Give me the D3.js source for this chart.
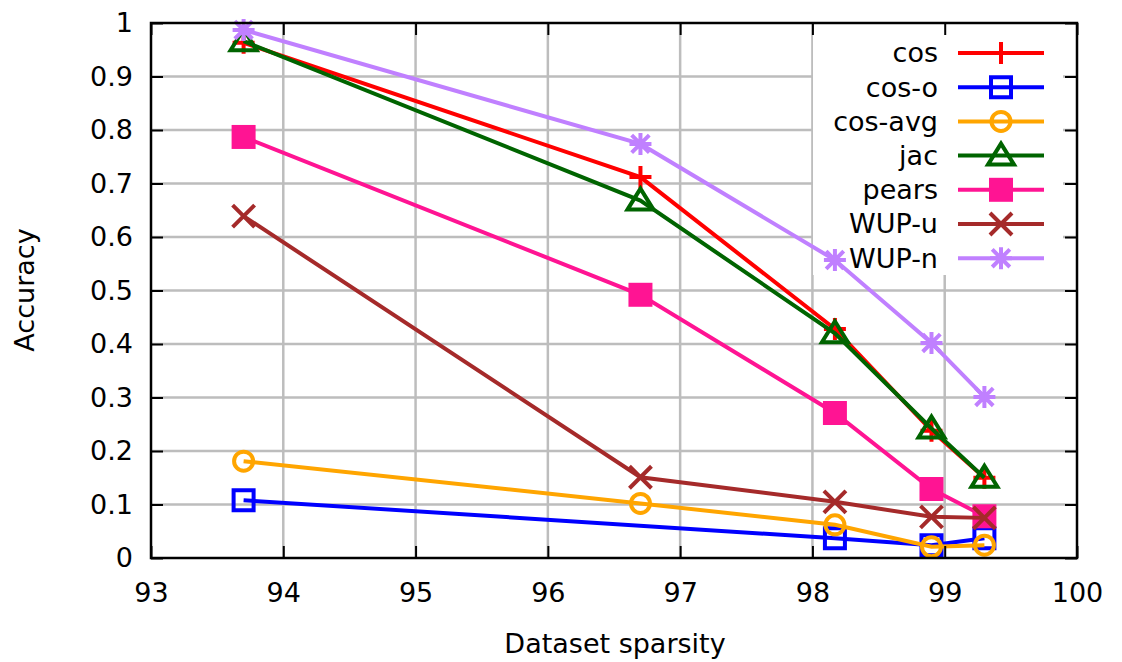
<!DOCTYPE html>
<html>
<head>
<meta charset="utf-8">
<script src="https://cdn.jsdelivr.net/npm/d3@7"></script>
<style>
  body { margin: 0; background: #fff; }
  text { font-family: "DejaVu Sans", sans-serif; fill: #000; }
</style>
</head>
<body>
<div id="chart"></div>
<script>
// Data
const sparsity = [93.7, 96.7, 98.17, 98.9, 99.3];
const cos     = [0.963, 0.712, 0.428, 0.238, 0.150];
const cosO    = [0.108, null, 0.037, 0.024, 0.037];
const cosAvg  = [0.181, 0.102, 0.062, 0.021, 0.024];
const jac     = [0.966, 0.668, 0.420, 0.242, 0.150];
const pears   = [0.787, 0.492, 0.271, 0.129, 0.078];
const wupU    = [0.639, 0.151, 0.105, 0.077, 0.075];
const wupN    = [0.987, 0.774, 0.557, 0.402, 0.301];
const xTicks = [93, 94, 95, 96, 97, 98, 99, 100];
const yTicks = [0, 0.1, 0.2, 0.3, 0.4, 0.5, 0.6, 0.7, 0.8, 0.9, 1];

const series = [
  {name: "cos",     values: cos,    color: "#ff0000", marker: "plus"},
  {name: "cos-o",   values: cosO,   color: "#0000ff", marker: "square"},
  {name: "cos-avg", values: cosAvg, color: "#ffa500", marker: "circle"},
  {name: "jac",     values: jac,    color: "#006400", marker: "triangle"},
  {name: "pears",   values: pears,  color: "#ff1493", marker: "fsquare"},
  {name: "WUP-u",   values: wupU,   color: "#a52a2a", marker: "cross"},
  {name: "WUP-n",   values: wupN,   color: "#c080ff", marker: "star"}
];

const W = 1122, H = 662;
const margin = {top: 23, right: 45, bottom: 104, left: 151};
const width = W - margin.left - margin.right,
      height = H - margin.top - margin.bottom;
const fontSize = "27px";
const lw = 4;

const svg = d3.select("#chart").append("svg")
    .attr("width", W).attr("height", H);
const g = svg.append("g")
    .attr("transform", `translate(${margin.left},${margin.top})`);

const x = d3.scaleLinear().domain([93, 100]).range([0, width]);
const y = d3.scaleLinear().domain([0, 1]).range([height, 0]);

// Grid lines
g.append("g").selectAll("line")
  .data(xTicks.slice(1, -1)).join("line")
    .attr("x1", d => x(d)).attr("x2", d => x(d))
    .attr("y1", 0).attr("y2", height)
    .attr("stroke", "#bdbdbd").attr("stroke-width", 2.5);
g.append("g").selectAll("line")
  .data(yTicks.slice(1, -1)).join("line")
    .attr("x1", 0).attr("x2", width)
    .attr("y1", d => y(d)).attr("y2", d => y(d))
    .attr("stroke", "#bdbdbd").attr("stroke-width", 2.5);

// Legend background covers the grid
const legend = {x: 813 - margin.left, y: 0, w: 250, h: 252};
g.append("rect")
  .attr("x", legend.x).attr("y", legend.y)
  .attr("width", legend.w).attr("height", legend.h)
  .attr("fill", "#fff");

// Marker shapes
function markerPath(type) {
  const s = 11;
  switch (type) {
    case "plus": return `M${-s},0H${s}M0,${-s}V${s}`;
    case "cross": return `M${-s},${-s}L${s},${s}M${-s},${s}L${s},${-s}`;
    case "star": return `M${-s},0H${s}M0,${-s}V${s}M${-s*0.8},${-s*0.8}L${s*0.8},${s*0.8}M${-s*0.8},${s*0.8}L${s*0.8},${-s*0.8}`;
    case "square": return `M${-s+1},${-s+1}H${s-1}V${s-1}H${-s+1}Z`;
    case "fsquare": return `M${-12},${-12}H12V12H-12Z`;
    case "triangle": return `M0,${-s-1}L${s+2},${s-2}H${-s-2}Z`;
    case "circle": return d3.symbol(d3.symbolCircle, Math.PI * 9.5 * 9.5)();
  }
}
function drawMarker(sel, d) {
  const filled = d.marker === "fsquare";
  sel.append("path")
    .attr("d", markerPath(d.marker))
    .attr("fill", filled ? d.color : "none")
    .attr("stroke", filled ? "none" : d.color)
    .attr("stroke-width", lw)
    .attr("stroke-linejoin", "miter");
}

// Lines
const line = d3.line()
  .x(p => x(p[0])).y(p => y(p[1]));

series.forEach(s => {
  const pts = sparsity.map((v, i) => [v, s.values[i]]).filter(p => p[1] != null);
  g.append("path")
    .datum(pts)
    .attr("fill", "none")
    .attr("stroke", s.color)
    .attr("stroke-width", lw)
    .attr("d", line);
  pts.forEach(p => {
    const m = g.append("g").attr("transform", `translate(${x(p[0])},${y(p[1])})`);
    drawMarker(m, s);
  });
});

// Legend entries
series.forEach((s, i) => {
  const ly = 30 + i * 34.2;
  g.append("text")
    .attr("x", 938 - margin.left).attr("y", ly)
    .attr("dy", "0.35em")
    .attr("text-anchor", "end")
    .style("font-size", fontSize)
    .text(s.name);
  g.append("line")
    .attr("x1", 958 - margin.left).attr("x2", 1044 - margin.left)
    .attr("y1", ly).attr("y2", ly)
    .attr("stroke", s.color).attr("stroke-width", lw);
  const m = g.append("g").attr("transform", `translate(${1001 - margin.left},${ly})`);
  drawMarker(m, s);
});

// Border
g.append("rect")
  .attr("width", width).attr("height", height)
  .attr("fill", "none").attr("stroke", "#000").attr("stroke-width", 2.5);

// Axes with inward ticks, mirrored
const tl = 12;
g.append("g")
  .attr("transform", `translate(0,${height})`)
  .call(d3.axisBottom(x).tickValues(xTicks).tickSize(-tl).tickPadding(tl + 13).tickFormat(d3.format("d")))
  .call(a => a.select(".domain").remove())
  .call(a => a.selectAll("line").attr("stroke-width", 2))
  .call(a => a.selectAll("text").style("font-size", fontSize));
g.append("g")
  .call(d3.axisTop(x).tickValues(xTicks).tickSize(-tl).tickFormat(""))
  .call(a => a.select(".domain").remove())
  .call(a => a.selectAll("line").attr("stroke-width", 2));
g.append("g")
  .call(d3.axisLeft(y).tickValues(yTicks).tickSize(-tl).tickPadding(tl + 6).tickFormat(d => d3.format("")(d)))
  .call(a => a.select(".domain").remove())
  .call(a => a.selectAll("line").attr("stroke-width", 2))
  .call(a => a.selectAll("text").style("font-size", fontSize));
g.append("g")
  .attr("transform", `translate(${width},0)`)
  .call(d3.axisRight(y).tickValues(yTicks).tickSize(-tl).tickFormat(""))
  .call(a => a.select(".domain").remove())
  .call(a => a.selectAll("line").attr("stroke-width", 2));

// Axis labels
svg.append("text")
  .attr("x", 615).attr("y", 644)
  .attr("dy", "0.35em")
  .attr("text-anchor", "middle")
  .style("font-size", fontSize)
  .text("Dataset sparsity");
svg.append("text")
  .attr("transform", "translate(25,290) rotate(-90)")
  .attr("dy", "0.35em")
  .attr("text-anchor", "middle")
  .style("font-size", fontSize)
  .text("Accuracy");
</script>
</body>
</html>
